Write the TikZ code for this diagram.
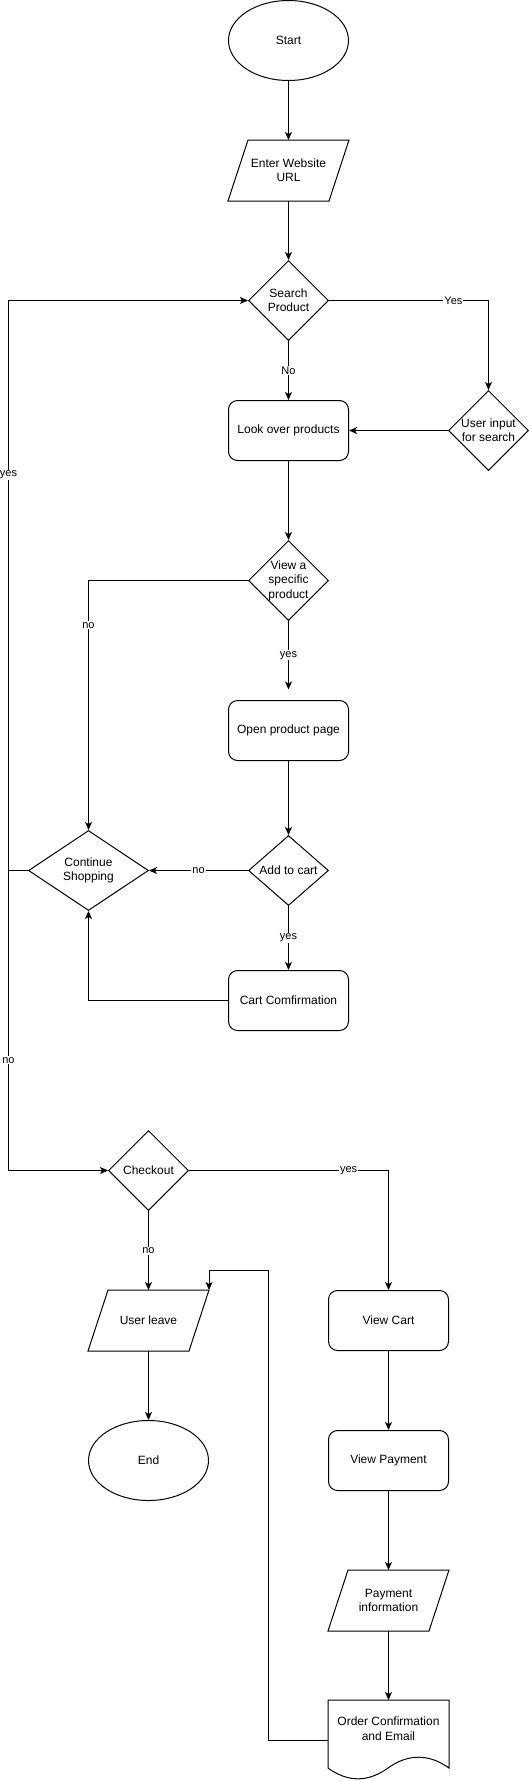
\documentclass[tikz,border=0pt]{standalone}
\usepackage{fontspec}
\setmainfont{Liberation Sans}
\usetikzlibrary{shapes.geometric,arrows.meta}
\begin{document}
\begin{tikzpicture}[x=1pt,y=-1pt,
  every node/.style={font=\fontsize{12}{14.4}\selectfont},
  line width=1pt,
  arr/.style={-{Stealth[length=8pt,width=7pt,inset=2pt]}},
  term/.style={ellipse,draw,minimum width=120pt,minimum height=80pt,inner sep=0pt},
  proc/.style={rectangle,draw,rounded corners=9pt,minimum width=120pt,minimum height=60pt,inner sep=0pt,align=center},
  iobox/.style={rectangle,minimum width=120pt,minimum height=60pt,inner sep=0pt,align=center},
  dec/.style={diamond,draw,inner sep=0pt,minimum width=80pt,minimum height=80pt},
  elabel/.style={fill=white,inner sep=1pt,font=\fontsize{11}{13}\selectfont},
  lbl/.style={align=center}]
\useasboundingbox (0,0) rectangle (529,1781);

% nodes
\node[term] (start) at (288.5,40.5) {Start};
\node[iobox] (url) at (288.5,170.5) {Enter Website\\URL};
\node[dec,label={[lbl]center:Search\\Product}] (search) at (288.5,300.5) {};
\node[proc] (look) at (288.5,430.5) {Look over products};
\node[dec,label={[lbl]center:User input\\for search}] (uis) at (488.5,430.5) {};
\node[dec,label={[lbl]center:View a\\specific\\product}] (view) at (288.5,580.5) {};
\coordinate (opentop) at (288.5,689.5);
\node[proc] (open) at (288.5,730.5) {Open product page};
\node[dec,minimum height=70pt,label={[lbl]center:Add to cart}] (cart) at (288.5,870.5) {};
\node[dec,minimum width=120pt,label={[lbl]center:Continue\\Shopping}] (cont) at (88.5,870.5) {};
\node[proc] (cconf) at (288.5,1000.5) {Cart Comfirmation};
\node[dec,label={[lbl]center:Checkout}] (checkout) at (148.5,1170.5) {};
\node[iobox] (leave) at (148.5,1320.5) {User leave};
\node[term] (end) at (148.5,1460.5) {End};
\node[proc] (vcart) at (388.5,1320.5) {View Cart};
\node[proc] (vpay) at (388.5,1460.5) {View Payment};
\node[iobox] (pinfo) at (388.5,1600.5) {Payment\\information};
\node[rectangle,minimum width=120pt,minimum height=80pt,inner sep=0pt,
      label={[lbl,yshift=12pt]center:Order Confirmation\\and Email}] (ordc) at (388.5,1740.5) {};
\coordinate (lx) at (8.5,0);
\coordinate (rx) at (268.5,1270.5);

% parallelogram outlines
\draw ([xshift=20pt]url.north west) -- (url.north east) -- ([xshift=-20pt]url.south east) -- (url.south west) -- cycle;
\draw ([xshift=20pt]leave.north west) -- (leave.north east) -- ([xshift=-20pt]leave.south east) -- (leave.south west) -- cycle;
\draw ([xshift=20pt]pinfo.north west) -- (pinfo.north east) -- ([xshift=-20pt]pinfo.south east) -- (pinfo.south west) -- cycle;
% document outline
\draw (ordc.north west) -- (ordc.north east) -- ([yshift=-68pt]ordc.north east)
  .. controls ([xshift=-20pt,yshift=-53.6pt]ordc.north east) and ([xshift=80pt,yshift=-53.6pt]ordc.north west) .. ([xshift=60pt,yshift=-68pt]ordc.north west)
  .. controls ([xshift=40pt,yshift=-82.4pt]ordc.north west) and ([xshift=20pt,yshift=-82.4pt]ordc.north west) .. ([yshift=-68pt]ordc.north west) -- cycle;

% connectors
\draw[arr] (start) -- (url);
\draw[arr] (url) -- (search);
\draw[arr] (search.east) -| node[elabel,pos=0.39]{Yes} (uis.north);
\draw[arr] (search.south) -- node[elabel]{No} (look.north);
\draw[arr] (uis.west) -- (look.east);
\draw[arr] (look.south) -- (view.north);
\draw[arr] (view.west) -| node[elabel,pos=0.59]{no} (cont.north);
\draw[arr] (view.south) -- node[elabel]{yes} (opentop);
\draw[arr] (open.south) -- (cart.north);
\draw[arr] (cart.west) -- node[elabel]{no} (cont.east);
\draw[arr] (cart.south) -- node[elabel]{yes} (cconf.north);
\draw[arr] (cconf.west) -| (cont.south);
\draw[arr] (cont.west) -- (cont.west -| lx) |- node[elabel,pos=0.347]{yes} (search.west);
\draw[arr] (cont.west) -- (cont.west -| lx) |- node[elabel,pos=0.316]{no} (checkout.west);
\draw[arr] (checkout.east) -| node[elabel,pos=0.4]{yes} (vcart.north);
\draw[arr] (checkout.south) -- node[elabel]{no} (leave.north);
\draw[arr] (leave.south) -- (end.north);
\draw[arr] (vcart.south) -- (vpay.north);
\draw[arr] (vpay.south) -- (pinfo.north);
\draw[arr] (pinfo.south) -- (ordc.north);
\draw[arr] (ordc.west) -| (rx) -| (leave.north east);
\end{tikzpicture}
\end{document}
